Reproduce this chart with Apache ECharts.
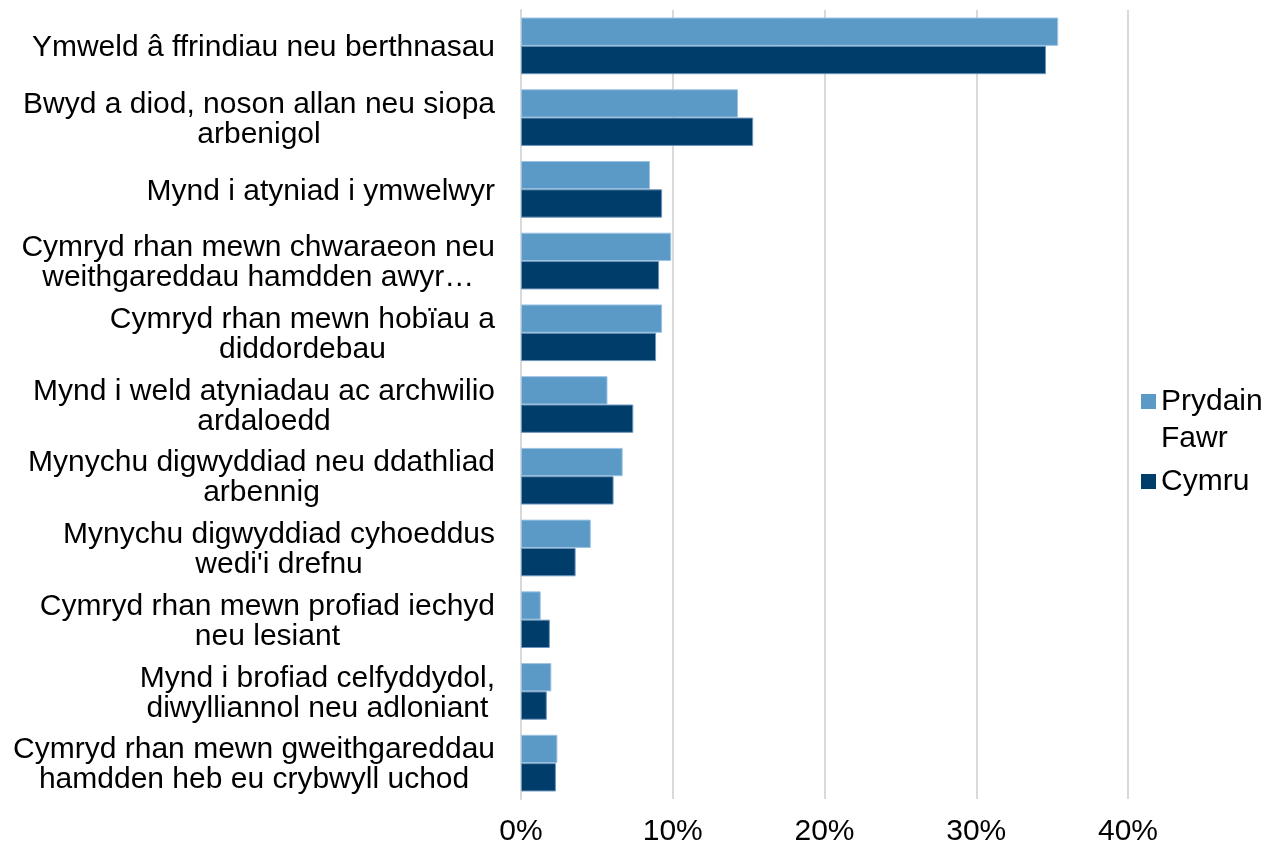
<!doctype html>
<html>
<head>
<meta charset="utf-8">
<script src="https://cdn.jsdelivr.net/npm/echarts@6/dist/echarts.min.js"></script>
<style>
html, body { margin: 0; padding: 0; background: #fff; }
#main { width: 1264px; height: 847px; }
</style>
</head>
<body>
<div id="main"></div>
<script type="text/javascript">
// categories (top to bottom)
var categories = [
    'Ymweld â ffrindiau neu berthnasau',
    'Bwyd a diod, noson allan neu siopa\narbenigol',
    'Mynd i atyniad i ymwelwyr',
    'Cymryd rhan mewn chwaraeon neu\nweithgareddau hamdden awyr…',
    'Cymryd rhan mewn hobïau a\ndiddordebau',
    'Mynd i weld atyniadau ac archwilio\nardaloedd',
    'Mynychu digwyddiad neu ddathliad\narbennig',
    'Mynychu digwyddiad cyhoeddus\nwedi\'i drefnu',
    'Cymryd rhan mewn profiad iechyd\nneu lesiant',
    'Mynd i brofiad celfyddydol,\ndiwylliannol neu adloniant',
    'Cymryd rhan mewn gweithgareddau\nhamdden heb eu crybwyll uchod'
];
var seriesNames = ['Prydain Fawr', 'Cymru'];
// percentages
var prydainFawr = [35.4, 14.3, 8.5, 9.9, 9.3, 5.7, 6.7, 4.6, 1.3, 2.0, 2.4];
var cymru = [34.6, 15.3, 9.3, 9.1, 8.9, 7.4, 6.1, 3.6, 1.9, 1.7, 2.3];
var xTicks = [0, 10, 20, 30, 40];

var font = '"Liberation Sans", Arial, sans-serif';
var myChart = echarts.init(document.getElementById('main'));

var option = {
    animation: false,
    backgroundColor: '#fff',
    textStyle: { fontFamily: font },
    grid: { left: 521, right: 136, top: 10, bottom: 47, containLabel: false },
    legend: {
        orient: 'vertical',
        left: 1141,
        top: 346,
        padding: 0,
        itemGap: 6,
        itemWidth: 15,
        itemHeight: 15,
        icon: 'rect',
        itemStyle: { borderWidth: 0 },
        textStyle: { fontSize: 30, color: '#000', fontFamily: font, lineHeight: 37 },
        data: seriesNames,
        formatter: function (name) {
            // empty first line keeps the icon level with "Prydain"
            return name === 'Prydain Fawr' ? '\nPrydain\nFawr' : name;
        }
    },
    xAxis: {
        type: 'value',
        min: xTicks[0],
        max: xTicks[xTicks.length - 1],
        interval: 10,
        axisLine: { show: false },
        axisTick: { show: false },
        splitLine: { lineStyle: { color: '#d9d9d9', width: 2 } },
        axisLabel: {
            formatter: '{value}%',
            fontSize: 30,
            color: '#000',
            fontFamily: font,
            margin: 18
        }
    },
    yAxis: {
        type: 'category',
        inverse: true,
        data: categories,
        axisLine: { show: true, lineStyle: { color: '#d9d9d9', width: 2 } },
        axisTick: { show: false },
        axisLabel: {
            margin: 26,
            align: 'right',
            formatter: function (value) {
                return value.split('\n').map(function (l) { return '{c|' + l + '}'; }).join('\n');
            },
            rich: {
                c: { align: 'center', fontSize: 30, lineHeight: 30, color: '#000', fontFamily: font, padding: [4, 0, 0, 0] }
            }
        }
    },
    series: [
        {
            name: seriesNames[0],
            type: 'bar',
            data: prydainFawr,
            barGap: '0%',
            barCategoryGap: '21%',
            itemStyle: { color: '#5B9AC6', borderColor: '#9cc3e4', borderWidth: 1 }
        },
        {
            name: seriesNames[1],
            type: 'bar',
            data: cymru,
            barGap: '0%',
            barCategoryGap: '21%',
            itemStyle: { color: '#003D6B', borderColor: '#6d95bb', borderWidth: 1 }
        }
    ]
};

myChart.setOption(option);
</script>
</body>
</html>
